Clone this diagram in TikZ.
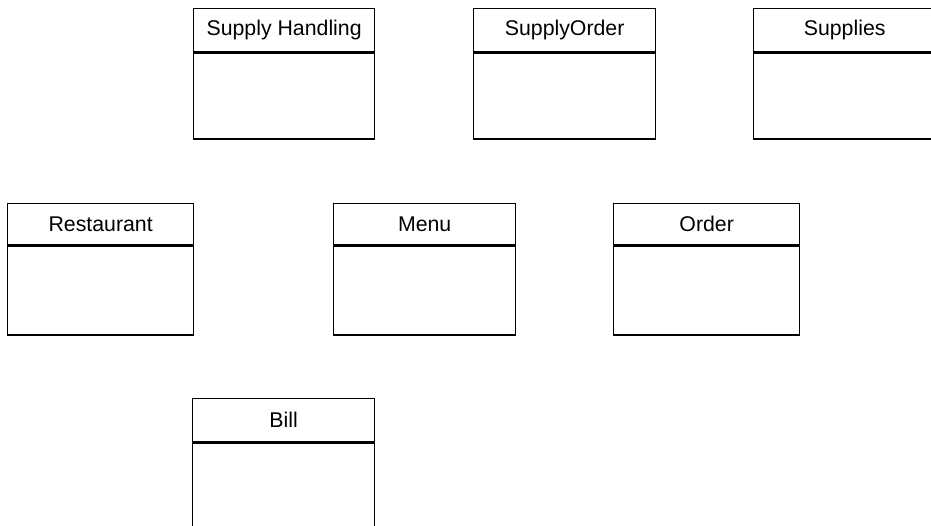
\documentclass[tikz,border=0pt]{standalone}
\usepackage{fontspec}
\setmainfont{Liberation Sans}
\begin{document}
\begin{tikzpicture}[x=1pt,y=-1pt,
  hdr/.style={draw, line width=1.3pt, anchor=north west, inner sep=0pt,
    font=\fontsize{21.3}{24}\selectfont},
  bdy/.style={draw, line width=1.3pt, anchor=north west, inner sep=0pt}]
\useasboundingbox (0,0) rectangle (931,526);
\clip (0,0) rectangle (931,526);
% Row 1
\node[hdr, minimum width=181pt, minimum height=43.5pt] (shH) at (193,8) {Supply Handling};
\node[bdy, minimum width=181pt, minimum height=85.5pt] (shB) at (shH.south west) {};
\node[hdr, minimum width=182pt, minimum height=43.5pt] (soH) at (473,8) {SupplyOrder};
\node[bdy, minimum width=182pt, minimum height=85.5pt] (soB) at (soH.south west) {};
\node[hdr, minimum width=182pt, minimum height=43.5pt] (spH) at (753,8) {Supplies};
\node[bdy, minimum width=182pt, minimum height=85.5pt] (spB) at (spH.south west) {};
% Row 2
\node[hdr, minimum width=186pt, minimum height=41pt] (reH) at (7,203) {Restaurant};
\node[bdy, minimum width=186pt, minimum height=89pt] (reB) at (reH.south west) {};
\node[hdr, minimum width=182pt, minimum height=41pt] (meH) at (333,203) {Menu};
\node[bdy, minimum width=182pt, minimum height=89pt] (meB) at (meH.south west) {};
\node[hdr, minimum width=186pt, minimum height=41pt] (orH) at (613,203) {Order};
\node[bdy, minimum width=186pt, minimum height=89pt] (orB) at (orH.south west) {};
% Row 3
\node[hdr, minimum width=182pt, minimum height=43pt] (biH) at (192,398) {Bill};
\node[bdy, minimum width=182pt, minimum height=100pt] (biB) at (biH.south west) {};
\end{tikzpicture}
\end{document}
